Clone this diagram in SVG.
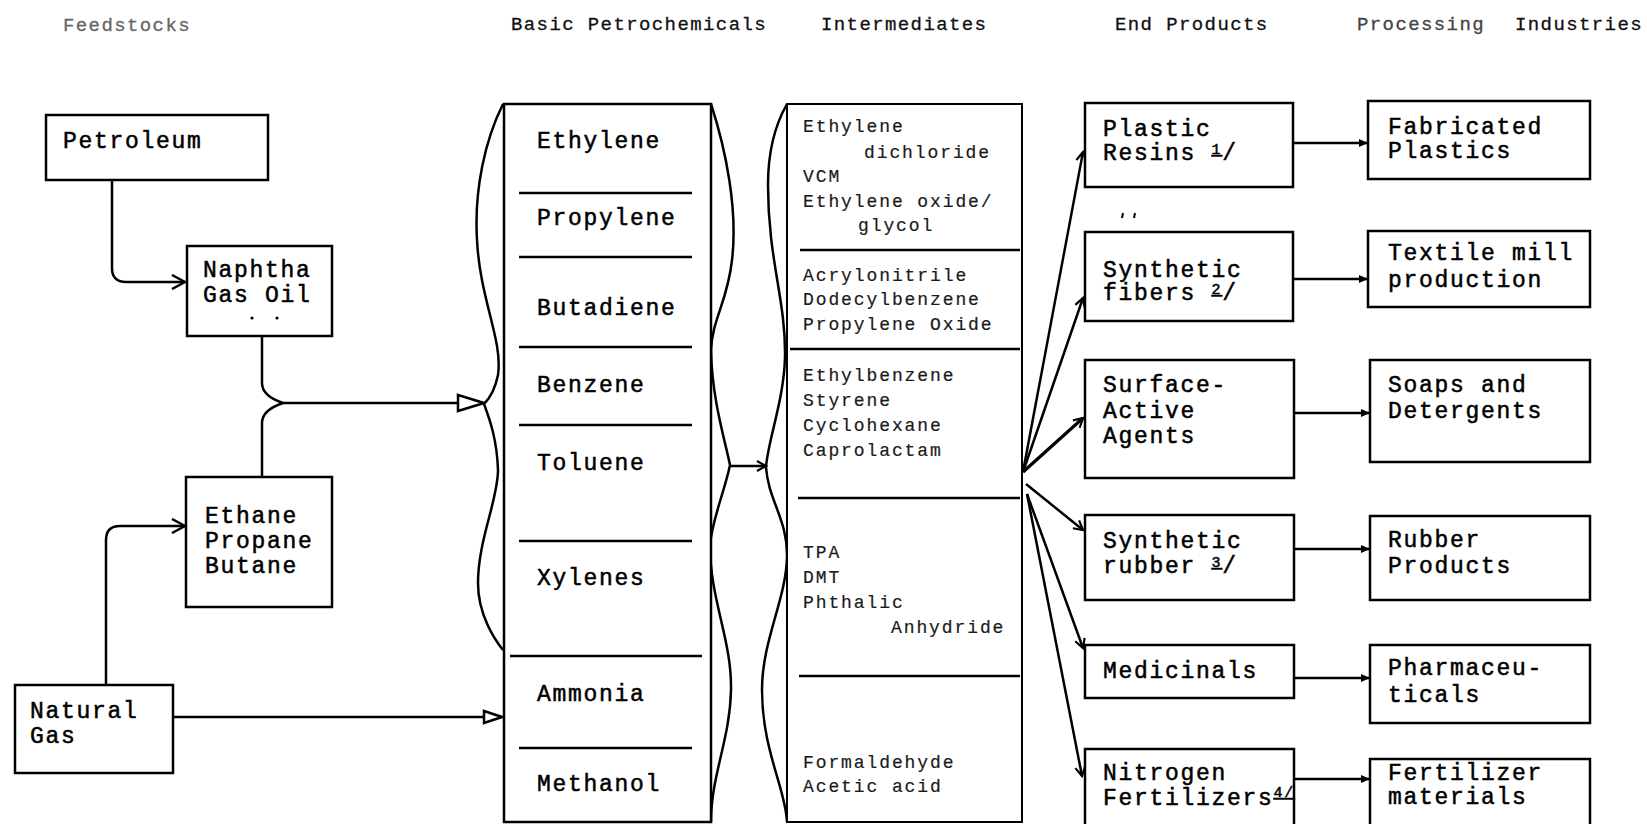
<svg xmlns="http://www.w3.org/2000/svg" width="1647" height="824" viewBox="0 0 1647 824">
<style>
.box{fill:#fff;stroke:#000;stroke-width:2.5}
.t{font-family:"Liberation Mono","Courier New",monospace;font-size:23px;letter-spacing:1.7px;fill:#000;stroke:#000;stroke-width:0.5px}
.h{font-family:"Liberation Mono","Courier New",monospace;font-size:19px;letter-spacing:1.4px;fill:#111;stroke:#111;stroke-width:0.3px}
.s{font-family:"Liberation Mono","Courier New",monospace;font-size:18px;letter-spacing:1.9px;fill:#1a1a1a;stroke:#1a1a1a;stroke-width:0.2px}
.ln{fill:none;stroke:#000;stroke-width:2.5}
.dv{stroke:#000;stroke-width:2.5}
.fn{font-size:15px;text-decoration:underline}
</style>
<defs>
<marker id="chev" viewBox="0 0 16 16" refX="14" refY="8" markerWidth="16" markerHeight="16" markerUnits="userSpaceOnUse" orient="auto">
<path d="M1,1 L14,8 L1,15" fill="none" stroke="#000" stroke-width="2.5"/>
</marker>
<marker id="tri" viewBox="0 0 30 20" refX="28" refY="10" markerWidth="30" markerHeight="20" markerUnits="userSpaceOnUse" orient="auto">
<path d="M2,2 L28,10 L2,18 Z" fill="#fff" stroke="#000" stroke-width="2.5"/>
</marker>
<marker id="tri2" viewBox="0 0 22 16" refX="20" refY="8" markerWidth="22" markerHeight="16" markerUnits="userSpaceOnUse" orient="auto">
<path d="M2,2 L20,8 L2,14 Z" fill="#fff" stroke="#000" stroke-width="2.5"/>
</marker>
<marker id="sm" viewBox="0 0 10 10" refX="9" refY="5" markerWidth="10" markerHeight="10" markerUnits="userSpaceOnUse" orient="auto">
<path d="M0,1 L9,5 L0,9 Z" fill="#000"/>
</marker>
<marker id="hk" viewBox="0 0 12 12" refX="10" refY="6" markerWidth="12" markerHeight="12" markerUnits="userSpaceOnUse" orient="auto">
<path d="M1,1 L10,6 L1,11" fill="none" stroke="#000" stroke-width="2.2"/>
</marker>
</defs>
<rect width="1647" height="824" fill="#fff"/>

<g id="headers">
<text class="h" x="63" y="31" style="fill:#666;stroke:#666">Feedstocks</text>
<text class="h" x="511" y="30">Basic Petrochemicals</text>
<text class="h" x="821" y="30">Intermediates</text>
<text class="h" x="1115" y="30">End Products</text>
<text class="h" y="30"><tspan x="1357" style="fill:#444;stroke:#444">Processing</tspan><tspan x="1515">Industries</tspan></text>
</g>

<g id="connectors">
<path class="ln" d="M112,180 V268 Q112,282 126,282 H185" marker-end="url(#chev)"/>
<path class="ln" d="M262,336 V383 Q262,396 283,403 H484" marker-end="url(#tri)"/>
<path class="ln" d="M262,477 V423 Q262,410 283,403"/>
<path class="ln" d="M106,685 V540 Q106,526 120,526 H185" marker-end="url(#chev)"/>
<path class="ln" d="M173,717 H502" marker-end="url(#tri2)"/>
<path class="ln" d="M503,104 C485,140 474,190 477,240 C480,300 503,340 498,375 C495,390 488,400 484,404 C490,420 497,440 498,470 C498,500 478,540 478,583 C478,615 495,640 503,650"/>
<path class="ln" d="M711,104 C726,150 738,210 732,260 C728,300 712,320 711,350 C712,400 725,440 730,465 C725,490 712,520 710,545 C710,600 732,640 731,690 C730,740 711,775 711,822"/>
<path class="ln" d="M787,104 C775,125 768,150 768,185 C768,260 786,300 785,357 C784,400 768,440 766,467 C768,500 788,520 787,557 C786,600 762,640 762,690 C762,750 786,790 787,822"/>
<path class="ln" d="M730,466 H766" marker-end="url(#hk)"/>
<path class="ln" d="M1023,472 L1083,152" marker-end="url(#hk)"/>
<path class="ln" d="M1023,472 L1083,298" marker-end="url(#hk)"/>
<path class="ln" d="M1023,472 L1083,418" style="stroke-width:3.2" marker-end="url(#hk)"/>
<path class="ln" d="M1026,484 L1083,530" marker-end="url(#hk)"/>
<path class="ln" d="M1027,494 L1083,648" marker-end="url(#hk)"/>
<path class="ln" d="M1027,494 L1082,776" marker-end="url(#hk)"/>
<path class="ln" d="M1293,143 H1368" marker-end="url(#sm)"/>
<path class="ln" d="M1293,279 H1368" marker-end="url(#sm)"/>
<path class="ln" d="M1294,413 H1370" marker-end="url(#sm)"/>
<path class="ln" d="M1294,549 H1370" marker-end="url(#sm)"/>
<path class="ln" d="M1294,678 H1370" marker-end="url(#sm)"/>
<path class="ln" d="M1294,779 H1370" marker-end="url(#sm)"/>
</g>

<g id="petroleum">
<rect class="box" x="46" y="115" width="222" height="65"/>
<text class="t" x="63" y="148">Petroleum</text>
</g>
<g id="naphtha">
<rect class="box" x="187" y="246" width="145" height="90"/>
<text class="t" x="203" y="277">Naphtha</text>
<text class="t" x="203" y="302">Gas Oil</text>
<circle cx="252" cy="318" r="1.6" fill="#000"/>
<circle cx="277" cy="318" r="1.6" fill="#000"/>
</g>
<g id="ethane">
<rect class="box" x="186" y="477" width="146" height="130"/>
<text class="t" x="205" y="523">Ethane</text>
<text class="t" x="205" y="548">Propane</text>
<text class="t" x="205" y="573">Butane</text>
</g>
<g id="natural-gas">
<rect class="box" x="15" y="685" width="158" height="88"/>
<text class="t" x="30" y="718">Natural</text>
<text class="t" x="30" y="743">Gas</text>
</g>

<g id="basic-petrochemicals">
<rect class="box" x="504" y="104" width="207" height="718"/>
<line class="dv" x1="519" y1="193" x2="692" y2="193"/>
<line class="dv" x1="519" y1="257" x2="692" y2="257"/>
<line class="dv" x1="519" y1="347" x2="692" y2="347"/>
<line class="dv" x1="519" y1="425" x2="692" y2="425"/>
<line class="dv" x1="519" y1="541" x2="692" y2="541"/>
<line class="dv" x1="510" y1="656" x2="702" y2="656"/>
<line class="dv" x1="519" y1="748" x2="692" y2="748"/>
<text class="t" x="537" y="148">Ethylene</text>
<text class="t" x="537" y="225">Propylene</text>
<text class="t" x="537" y="315">Butadiene</text>
<text class="t" x="537" y="392">Benzene</text>
<text class="t" x="537" y="470">Toluene</text>
<text class="t" x="537" y="585">Xylenes</text>
<text class="t" x="537" y="701">Ammonia</text>
<text class="t" x="537" y="791">Methanol</text>
</g>

<g id="intermediates">
<rect class="box" x="787" y="104" width="235" height="718" style="stroke-width:2"/>
<line class="dv" x1="800" y1="250" x2="1020" y2="250"/>
<line class="dv" x1="790" y1="349" x2="1020" y2="349"/>
<line class="dv" x1="798" y1="498" x2="1020" y2="498"/>
<line class="dv" x1="799" y1="676" x2="1020" y2="676"/>
<text class="s" x="803" y="132">Ethylene</text>
<text class="s" x="864" y="158">dichloride</text>
<text class="s" x="803" y="182">VCM</text>
<text class="s" x="803" y="207">Ethylene oxide/</text>
<text class="s" x="858" y="231">glycol</text>
<text class="s" x="803" y="281">Acrylonitrile</text>
<text class="s" x="803" y="305">Dodecylbenzene</text>
<text class="s" x="803" y="330">Propylene Oxide</text>
<text class="s" x="803" y="381">Ethylbenzene</text>
<text class="s" x="803" y="406">Styrene</text>
<text class="s" x="803" y="431">Cyclohexane</text>
<text class="s" x="803" y="456">Caprolactam</text>
<text class="s" x="803" y="558">TPA</text>
<text class="s" x="803" y="583">DMT</text>
<text class="s" x="803" y="608">Phthalic</text>
<text class="s" x="891" y="633">Anhydride</text>
<text class="s" x="803" y="768">Formaldehyde</text>
<text class="s" x="803" y="792">Acetic acid</text>
</g>

<g id="plastic-resins">
<rect class="box" x="1085" y="103" width="208" height="84"/>
<text class="t" x="1103" y="136">Plastic</text>
<text class="t" x="1103" y="160">Resins <tspan class="fn" dy="-6">1</tspan><tspan dy="6">/</tspan></text>
</g>
<g id="fabricated-plastics">
<rect class="box" x="1368" y="101" width="222" height="78"/>
<text class="t" x="1388" y="134">Fabricated</text>
<text class="t" x="1388" y="158">Plastics</text>
</g>
<g id="synthetic-fibers">
<rect class="box" x="1085" y="232" width="208" height="89"/>
<text class="t" x="1103" y="277">Synthetic</text>
<text class="t" x="1103" y="300">fibers <tspan class="fn" dy="-6">2</tspan><tspan dy="6">/</tspan></text>
<path d="M1123,213 l-1,5 M1135,213 l-1,5" stroke="#000" stroke-width="2" fill="none"/>
</g>
<g id="textile">
<rect class="box" x="1368" y="231" width="222" height="76"/>
<text class="t" x="1388" y="260">Textile mill</text>
<text class="t" x="1388" y="287">production</text>
</g>
<g id="surface-active">
<rect class="box" x="1085" y="360" width="209" height="118"/>
<text class="t" x="1103" y="392">Surface-</text>
<text class="t" x="1103" y="418">Active</text>
<text class="t" x="1103" y="443">Agents</text>
</g>
<g id="soaps">
<rect class="box" x="1370" y="360" width="220" height="102"/>
<text class="t" x="1388" y="392">Soaps and</text>
<text class="t" x="1388" y="418">Detergents</text>
</g>
<g id="synthetic-rubber">
<rect class="box" x="1085" y="515" width="209" height="85"/>
<text class="t" x="1103" y="548">Synthetic</text>
<text class="t" x="1103" y="573">rubber <tspan class="fn" dy="-6">3</tspan><tspan dy="6">/</tspan></text>
</g>
<g id="rubber-products">
<rect class="box" x="1370" y="516" width="220" height="84"/>
<text class="t" x="1388" y="547">Rubber</text>
<text class="t" x="1388" y="573">Products</text>
</g>
<g id="medicinals">
<rect class="box" x="1085" y="645" width="209" height="53"/>
<text class="t" x="1103" y="678">Medicinals</text>
</g>
<g id="pharmaceuticals">
<rect class="box" x="1370" y="645" width="220" height="78"/>
<text class="t" x="1388" y="675">Pharmaceu-</text>
<text class="t" x="1388" y="702">ticals</text>
</g>
<g id="nitrogen-fertilizers">
<rect class="box" x="1085" y="749" width="209" height="90"/>
<text class="t" x="1103" y="780">Nitrogen</text>
<text class="t" x="1103" y="805">Fertilizers<tspan class="fn" dy="-8">4/</tspan></text>
</g>
<g id="fertilizer-materials">
<rect class="box" x="1370" y="759" width="220" height="80"/>
<text class="t" x="1388" y="780">Fertilizer</text>
<text class="t" x="1388" y="804">materials</text>
</g>
</svg>
